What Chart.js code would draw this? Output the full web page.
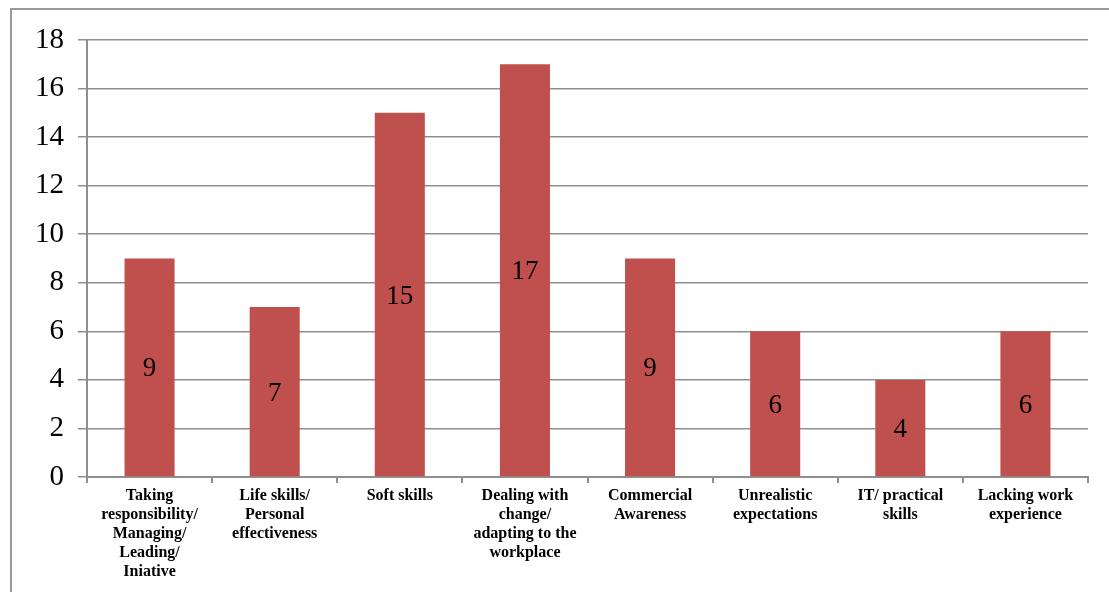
<!DOCTYPE html>
<html>
<head>
<meta charset="utf-8">
<style>
  html, body { margin: 0; padding: 0; background: #fff; }
  #wrap { width: 1109px; height: 592px; }
</style>
<script src="https://cdn.jsdelivr.net/npm/chart.js@4/dist/chart.umd.min.js"></script>
</head>
<body>
<div id="wrap"><canvas id="grafico"></canvas></div>
<script>
// categorias y valores
const categorias = [
  ['Taking', 'responsibility/', 'Managing/', 'Leading/', 'Iniative'],
  ['Life skills/', 'Personal', 'effectiveness'],
  ['Soft skills'],
  ['Dealing with', 'change/', 'adapting to the', 'workplace'],
  ['Commercial', 'Awareness'],
  ['Unrealistic', 'expectations'],
  ['IT/ practical', 'skills'],
  ['Lacking work', 'experience']
];
const valores = [9, 7, 15, 17, 9, 6, 4, 6];
const yMax = 18;
const yPaso = 2;

const fuente = "'Liberation Serif', 'DejaVu Serif', serif";
const gris = '#8f8f8f';

// marco gris alrededor del grafico
const marco = {
  id: 'marco',
  beforeDraw(chart) {
    const c = chart.ctx;
    c.save();
    c.strokeStyle = '#9a9a9a';
    c.lineWidth = 2;
    c.strokeRect(11, 9, 1300, 800);
    c.restore();
  }
};

// etiquetas dentro de las barras, centradas
const etiquetas = {
  id: 'etiquetas',
  afterDatasetsDraw(chart) {
    const c = chart.ctx;
    const meta = chart.getDatasetMeta(0);
    c.save();
    c.font = '27px ' + fuente;
    c.fillStyle = '#000';
    c.textAlign = 'center';
    c.textBaseline = 'middle';
    meta.data.forEach((bar, i) => {
      const mid = (bar.y + bar.base) / 2;
      c.fillText(String(valores[i]), bar.x, mid + 2);
    });
    c.restore();
  }
};

let ctx = document.getElementById('grafico').getContext('2d');
let grafico = new Chart(ctx, {
  type: 'bar',
  data: {
    labels: categorias,
    datasets: [{
      data: valores,
      backgroundColor: '#C0504D',
      barPercentage: 0.4,
      categoryPercentage: 1.0
    }]
  },
  options: {
    responsive: true,
    maintainAspectRatio: false,
    animation: false,
    layout: { padding: { top: 40, right: 21, left: 0, bottom: 0 } },
    plugins: {
      legend: { display: false },
      tooltip: { enabled: false }
    },
    scales: {
      x: {
        afterFit(scale) { scale.height = 115; },
        border: { color: gris, width: 2 },
        grid: { drawOnChartArea: false, offset: true, color: gris, lineWidth: 2, tickLength: 6 },
        ticks: {
          color: '#000',
          maxRotation: 0,
          autoSkip: false,
          padding: 3,
          font: { family: fuente, size: 16, weight: 'bold', lineHeight: 1.19 }
        }
      },
      y: {
        min: 0,
        max: yMax,
        afterFit(scale) { scale.width = 87; },
        border: { color: gris, width: 2 },
        grid: { color: gris, lineWidth: 1.5, tickLength: 9 },
        ticks: {
          stepSize: yPaso,
          color: '#000',
          padding: 14,
          font: { family: fuente, size: 29 }
        }
      }
    }
  },
  plugins: [marco, etiquetas]
});
</script>
</body>
</html>
